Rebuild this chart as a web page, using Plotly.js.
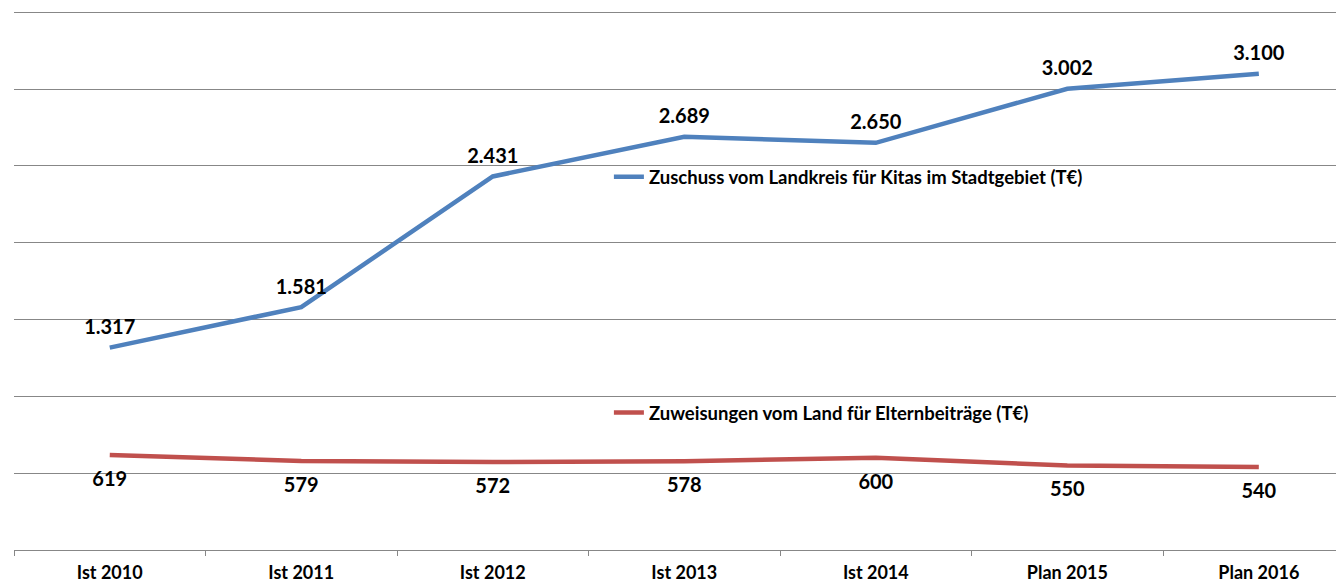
<!DOCTYPE html>
<html><head><meta charset="utf-8">
<script src="https://cdn.plot.ly/plotly-3.0.1.min.js"></script>
<style>html,body{margin:0;padding:0;background:#fff;}#chart{width:1336px;height:584px;}</style>
</head><body><div id="chart"></div>
<script>
const categories = ["Ist 2010","Ist 2011","Ist 2012","Ist 2013","Ist 2014","Plan 2015","Plan 2016"];
const zuschussLandkreis = [1317,1581,2431,2689,2650,3002,3100];
const zuweisungenLand = [619,579,572,578,600,550,540];
const seriesNames = ["Zuschuss vom Landkreis für Kitas im Stadtgebiet (T€)","Zuweisungen vom Land für Elternbeiträge (T€)"];

const fontFam = "Lato, 'Open Sans', sans-serif";
const traces = [
 {x: categories, y: zuschussLandkreis, name: seriesNames[0], type:'scatter', mode:'lines+markers+text',
  line:{color:'#4F81BD', width:4.5}, marker:{size:12, color:'rgba(0,0,0,0)'},
  texttemplate:'%{y:,.0f}', textposition:'top center', textfont:{family:fontFam, size:20, color:'#000', weight:'bold'},
  legend:'legend', hoverinfo:'skip'},
 {x: categories, y: zuweisungenLand, name: seriesNames[1], type:'scatter', mode:'lines+markers+text',
  line:{color:'#C0504D', width:4.5}, marker:{size:24, color:'rgba(0,0,0,0)'},
  texttemplate:'%{y:,.0f}', textposition:'bottom center', textfont:{family:fontFam, size:20, color:'#000', weight:'bold'},
  legend:'legend2', hoverinfo:'skip'}
];
const legendCommon = {xanchor:'left', yanchor:'middle', bgcolor:'rgba(0,0,0,0)', borderwidth:0,
  font:{family:fontFam, size:18.5, color:'#000', weight:'bold'}, itemwidth:30, tracegroupgap:0};
const layout = {
 width:1336, height:584, margin:{l:14, r:0, t:3, b:34},
 paper_bgcolor:'#fff', plot_bgcolor:'#fff', separators:',.',
 showlegend:true,
 legend: Object.assign({x:0.45, y:0.6815}, legendCommon),
 legend2: Object.assign({x:0.45, y:0.2505}, legendCommon),
 xaxis:{type:'category', range:[-0.5, 6.403], showgrid:false, zeroline:false, showline:true, linecolor:'#878787', linewidth:1,
   ticks:'outside', tickson:'boundaries', ticklen:5, tickcolor:'#878787', ticklabelstandoff:6,
   tickfont:{family:fontFam, size:18, color:'#000', weight:'bold'}, fixedrange:true},
 yaxis:{range:[0,3560], tickvals:[0,500,1000,1500,2000,2500,3000,3500], showgrid:true, gridcolor:'#878787', gridwidth:1, zeroline:false,
   showticklabels:false, showline:false, fixedrange:true}
};
Plotly.newPlot('chart', traces, layout, {displayModeBar:false, staticPlot:true});
</script></body></html>
